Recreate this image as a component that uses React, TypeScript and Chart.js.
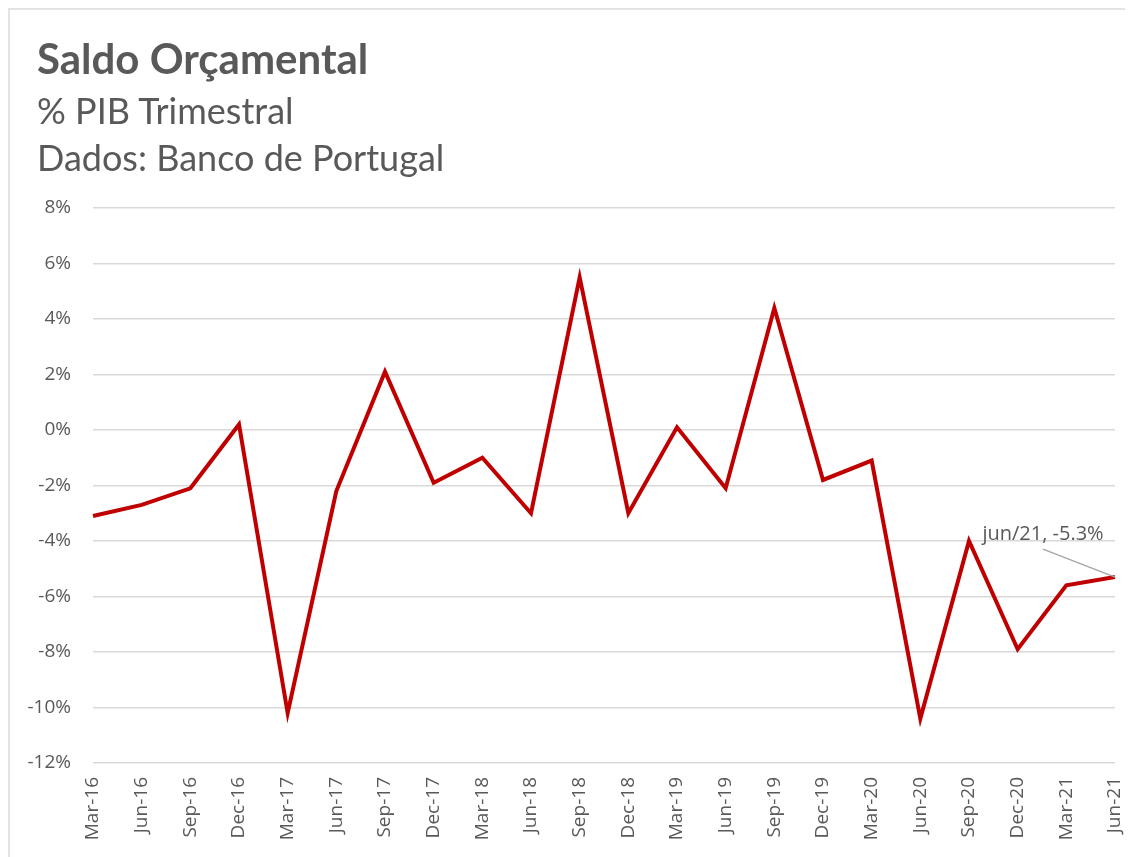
import React, { useEffect, useRef } from "react";
import { Chart, registerables } from "chart.js";

Chart.register(...registerables);

const categories = [
  "Mar-16", "Jun-16", "Sep-16", "Dec-16",
  "Mar-17", "Jun-17", "Sep-17", "Dec-17",
  "Mar-18", "Jun-18", "Sep-18", "Dec-18",
  "Mar-19", "Jun-19", "Sep-19", "Dec-19",
  "Mar-20", "Jun-20", "Sep-20", "Dec-20",
  "Mar-21", "Jun-21",
];

const saldo = [
  -3.1, -2.7, -2.1, 0.2,
  -10.2, -2.2, 2.1, -1.9,
  -1.0, -3.0, 5.5, -3.0,
  0.1, -2.1, 4.4, -1.8,
  -1.1, -10.4, -4.0, -7.9,
  -5.6, -5.3,
];

const titleText = "Saldo Orçamental";
const subtitleLines = ["% PIB Trimestral", "Dados: Banco de Portugal"];
const annotationText = "jun/21, -5.3%";

const yMin = -12;
const yMax = 8;
const yStep = 2;

const TEXT = "#595959";
const FONT = "'Open Sans', 'DejaVu Sans', sans-serif";

const annotationPlugin = {
  id: "lastPointLabel",
  afterDatasetsDraw(chart: any) {
    const meta = chart.getDatasetMeta(0);
    const pt = meta.data[meta.data.length - 1];
    if (!pt) return;
    const ctx = chart.ctx;
    const px = pt.x;
    const py = pt.y;
    ctx.save();
    ctx.strokeStyle = "#a6a6a6";
    ctx.lineWidth = 1.5;
    ctx.beginPath();
    ctx.moveTo(px - 72, py - 28);
    ctx.lineTo(px, py);
    ctx.stroke();
    ctx.fillStyle = TEXT;
    ctx.font = `20px ${FONT}`;
    ctx.textAlign = "center";
    ctx.textBaseline = "alphabetic";
    ctx.fillText(annotationText, px - 72, py - 37);
    ctx.restore();
  },
};

export default function App() {
  const canvasRef = useRef<HTMLCanvasElement | null>(null);

  useEffect(() => {
    if (!canvasRef.current) return;
    const chart = new Chart(canvasRef.current, {
      type: "line",
      data: {
        labels: categories,
        datasets: [
          {
            data: saldo,
            borderColor: "#c00000",
            backgroundColor: "#c00000",
            borderWidth: 4,
            pointRadius: 0,
            tension: 0,
            fill: false,
          },
        ],
      },
      options: {
        animation: false,
        responsive: false,
        maintainAspectRatio: false,
        layout: { padding: { top: 200, right: 18, left: 0, bottom: 0 } },
        plugins: {
          legend: { display: false },
          tooltip: { enabled: false },
          title: { display: false },
        },
        scales: {
          x: {
            offset: false,
            grid: { display: false, drawTicks: false },
            border: { display: false },
            ticks: {
              autoSkip: false,
              maxRotation: 90,
              minRotation: 90,
              padding: 14,
              color: TEXT,
              font: { family: FONT, size: 19 },
            },
            afterFit(scale: any) {
              scale.height = 94;
              scale.paddingLeft = 0;
              scale.paddingRight = 0;
            },
          },
          y: {
            min: yMin,
            max: yMax,
            grid: { color: "#d9d9d9", lineWidth: 1.5, drawTicks: false },
            border: { display: false },
            ticks: {
              stepSize: yStep,
              padding: 22,
              color: TEXT,
              font: { family: FONT, size: 19 },
              callback: (v: any) => `${v}%`,
            },
            afterFit(scale: any) {
              scale.width = 85;
              scale.paddingTop = 0;
              scale.paddingBottom = 0;
            },
          },
        },
      },
      plugins: [annotationPlugin],
    });
    return () => chart.destroy();
  }, []);

  return (
    <div style={{ position: "relative", width: 1125, height: 849, overflow: "hidden" }}>
      <div
        style={{
          position: "absolute",
          left: 0,
          top: 0,
          width: 1200,
          height: 900,
          borderTop: "2px solid #e3e3e3",
          borderLeft: "2px solid #e3e3e3",
          boxSizing: "border-box",
        }}
      />
      <canvas
        ref={canvasRef}
        width={1125}
        height={849}
        style={{ position: "absolute", left: 0, top: 0 }}
      />
      <div
        style={{
          position: "absolute",
          left: 29,
          top: 25,
          fontFamily: "Lato, sans-serif",
          fontWeight: 700,
          fontSize: 42,
          lineHeight: "50px",
          color: TEXT,
          whiteSpace: "nowrap",
        }}
      >
        {titleText}
      </div>
      {subtitleLines.map((t, i) => (
        <div
          key={t}
          style={{
            position: "absolute",
            left: 29,
            top: 81 + i * 47,
            fontFamily: "Lato, sans-serif",
            fontSize: 36,
            lineHeight: "42px",
            color: TEXT,
            whiteSpace: "nowrap",
          }}
        >
          {t}
        </div>
      ))}
    </div>
  );
}
